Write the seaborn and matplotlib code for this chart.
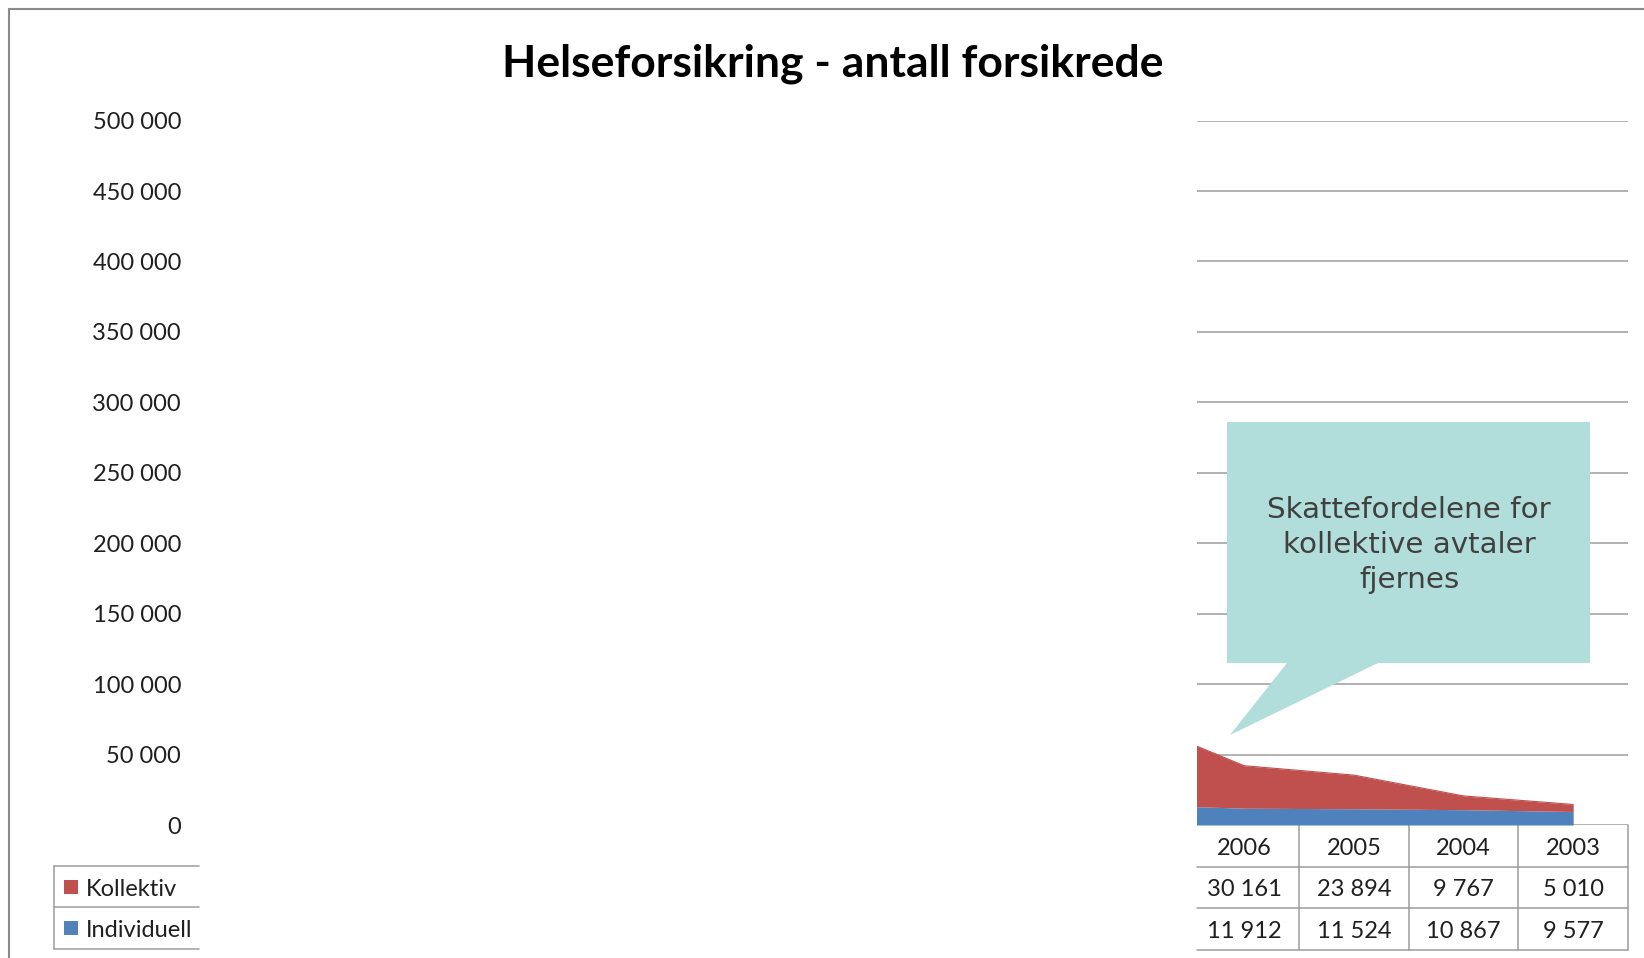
import matplotlib
matplotlib.use("Agg")
import matplotlib.pyplot as plt
from matplotlib.patches import Polygon, Rectangle
from matplotlib.lines import Line2D
import seaborn as sns
import numpy as np

# data (2007 is only partly visible at the left edge, values estimated)
years = ['2007', '2006', '2005', '2004', '2003']
kollektiv = [59800, 30161, 23894, 9767, 5010]
individuell = [14400, 11912, 11524, 10867, 9577]
series_names = ['Kollektiv', 'Individuell']
y_ticks = [0, 50000, 100000, 150000, 200000, 250000, 300000, 350000, 400000, 450000, 500000]
title = 'Helseforsikring - antall forsikrede'
callout = 'Skattefordelene for\nkollektive avtaler\nfjernes'

red = '#C0504D'
blue = '#4F81BD'
grid_c = '#9C9C9C'
txt_c = '#1F1F1F'

sns.set_theme(style='white')
plt.rcParams['font.family'] = ['Lato', 'DejaVu Sans']

W, H = 1644, 958
fig = plt.figure(figsize=(W / 100, H / 100), dpi=100)

def fx(px):
    return px / W

def fy(py):
    return 1 - py / H

ax_left, ax_right, ax_top, ax_bot = 1197, 1628, 120.6, 825
ax = fig.add_axes([fx(ax_left), fy(ax_bot), fx(ax_right - ax_left), (ax_bot - ax_top) / H])

x = np.arange(len(years)) - 1  # 2006 at 0
ind = np.array(individuell)
kol = np.array(kollektiv)
ax.fill_between(x, 0, ind, color=blue, lw=0, zorder=3)
ax.fill_between(x, ind, ind + kol, color=red, lw=0, zorder=3)
sns.lineplot(x=x, y=ind + kol, color=red, lw=0.8, ax=ax, zorder=3)

ax.set_xlim(-0.43, 3.5)
ax.set_ylim(0, 500000)
ax.set_xticks([])
ax.set_yticks(y_ticks)
ax.set_yticklabels([f'{v:,}'.replace(',', ' ') for v in y_ticks], fontsize=17, color=txt_c)
ax.tick_params(axis='y', length=0, pad=(ax_left - 181) * 0.72)
for s in ax.spines.values():
    s.set_visible(False)
for v in y_ticks:
    ax.axhline(v, color=grid_c, lw=1.1, zorder=1)

# data table below the axis
ax_h = ax_bot - ax_top
row_h = 41.5
tr = ax.get_xaxis_transform()
line_ys = [-(row_h * k) / ax_h for k in range(1, 4)]
for ly in line_ys:
    ax.plot([-0.43, 3.5], [ly, ly], color=grid_c, lw=1.1, transform=tr, clip_on=False)
for i in range(len(years) - 1):
    xb = i + 0.5
    if xb > -0.43:
        ax.plot([xb, xb], [0, line_ys[-1]], color=grid_c, lw=1.1, transform=tr, clip_on=False)
rows = [years, [f'{v:,}'.replace(',', ' ') for v in kollektiv], [f'{v:,}'.replace(',', ' ') for v in individuell]]
for r, row in enumerate(rows):
    yc = -(row_h * (r + 0.5) + 2.5) / ax_h
    for xi, val in zip(x, row):
        if xi >= 0:
            ax.text(xi, yc, val, transform=tr, ha='center', va='center', fontsize=17, color=txt_c)

# legend keys at left of the table
for py in [866, 907, 948.5]:
    fig.add_artist(Line2D([fx(54), fx(199)], [fy(py), fy(py)], color=grid_c, lw=1.1))
fig.add_artist(Line2D([fx(54), fx(54)], [fy(866), fy(948.5)], color=grid_c, lw=1.1))
for k, (name, col) in enumerate(zip(series_names, [red, blue])):
    yc = 866 + row_h * (k + 0.5)
    fig.add_artist(Rectangle((fx(64), fy(yc + 7)), fx(14), 14 / H, color=col, lw=0))
    fig.text(fx(86), fy(yc + 2.5), name, ha='left', va='center', fontsize=17, color=txt_c)

# callout
pts = [(1227, 422), (1590, 422), (1590, 663), (1378, 663), (1230, 735), (1287, 663), (1227, 663)]
fig.add_artist(Polygon([(fx(a), fy(b)) for a, b in pts], closed=True, color='#B1DEDA', lw=0, zorder=5))
fig.text(fx(1409), fy(545), callout, ha='center', va='center', fontsize=21.2, color='#404040',
         family=['DejaVu Sans'], linespacing=1.3, zorder=6)

# title
fig.text(fx(833), fy(64), title, ha='center', va='center', fontsize=32, fontweight='bold', color='black')

# outer frame
fig.add_artist(Line2D([fx(9), fx(9)], [fy(9), 0], color='#8A8A8A', lw=1.5))
fig.add_artist(Line2D([fx(9), 1], [fy(9), fy(9)], color='#8A8A8A', lw=1.5))

fig.savefig('out.png', dpi=100)
